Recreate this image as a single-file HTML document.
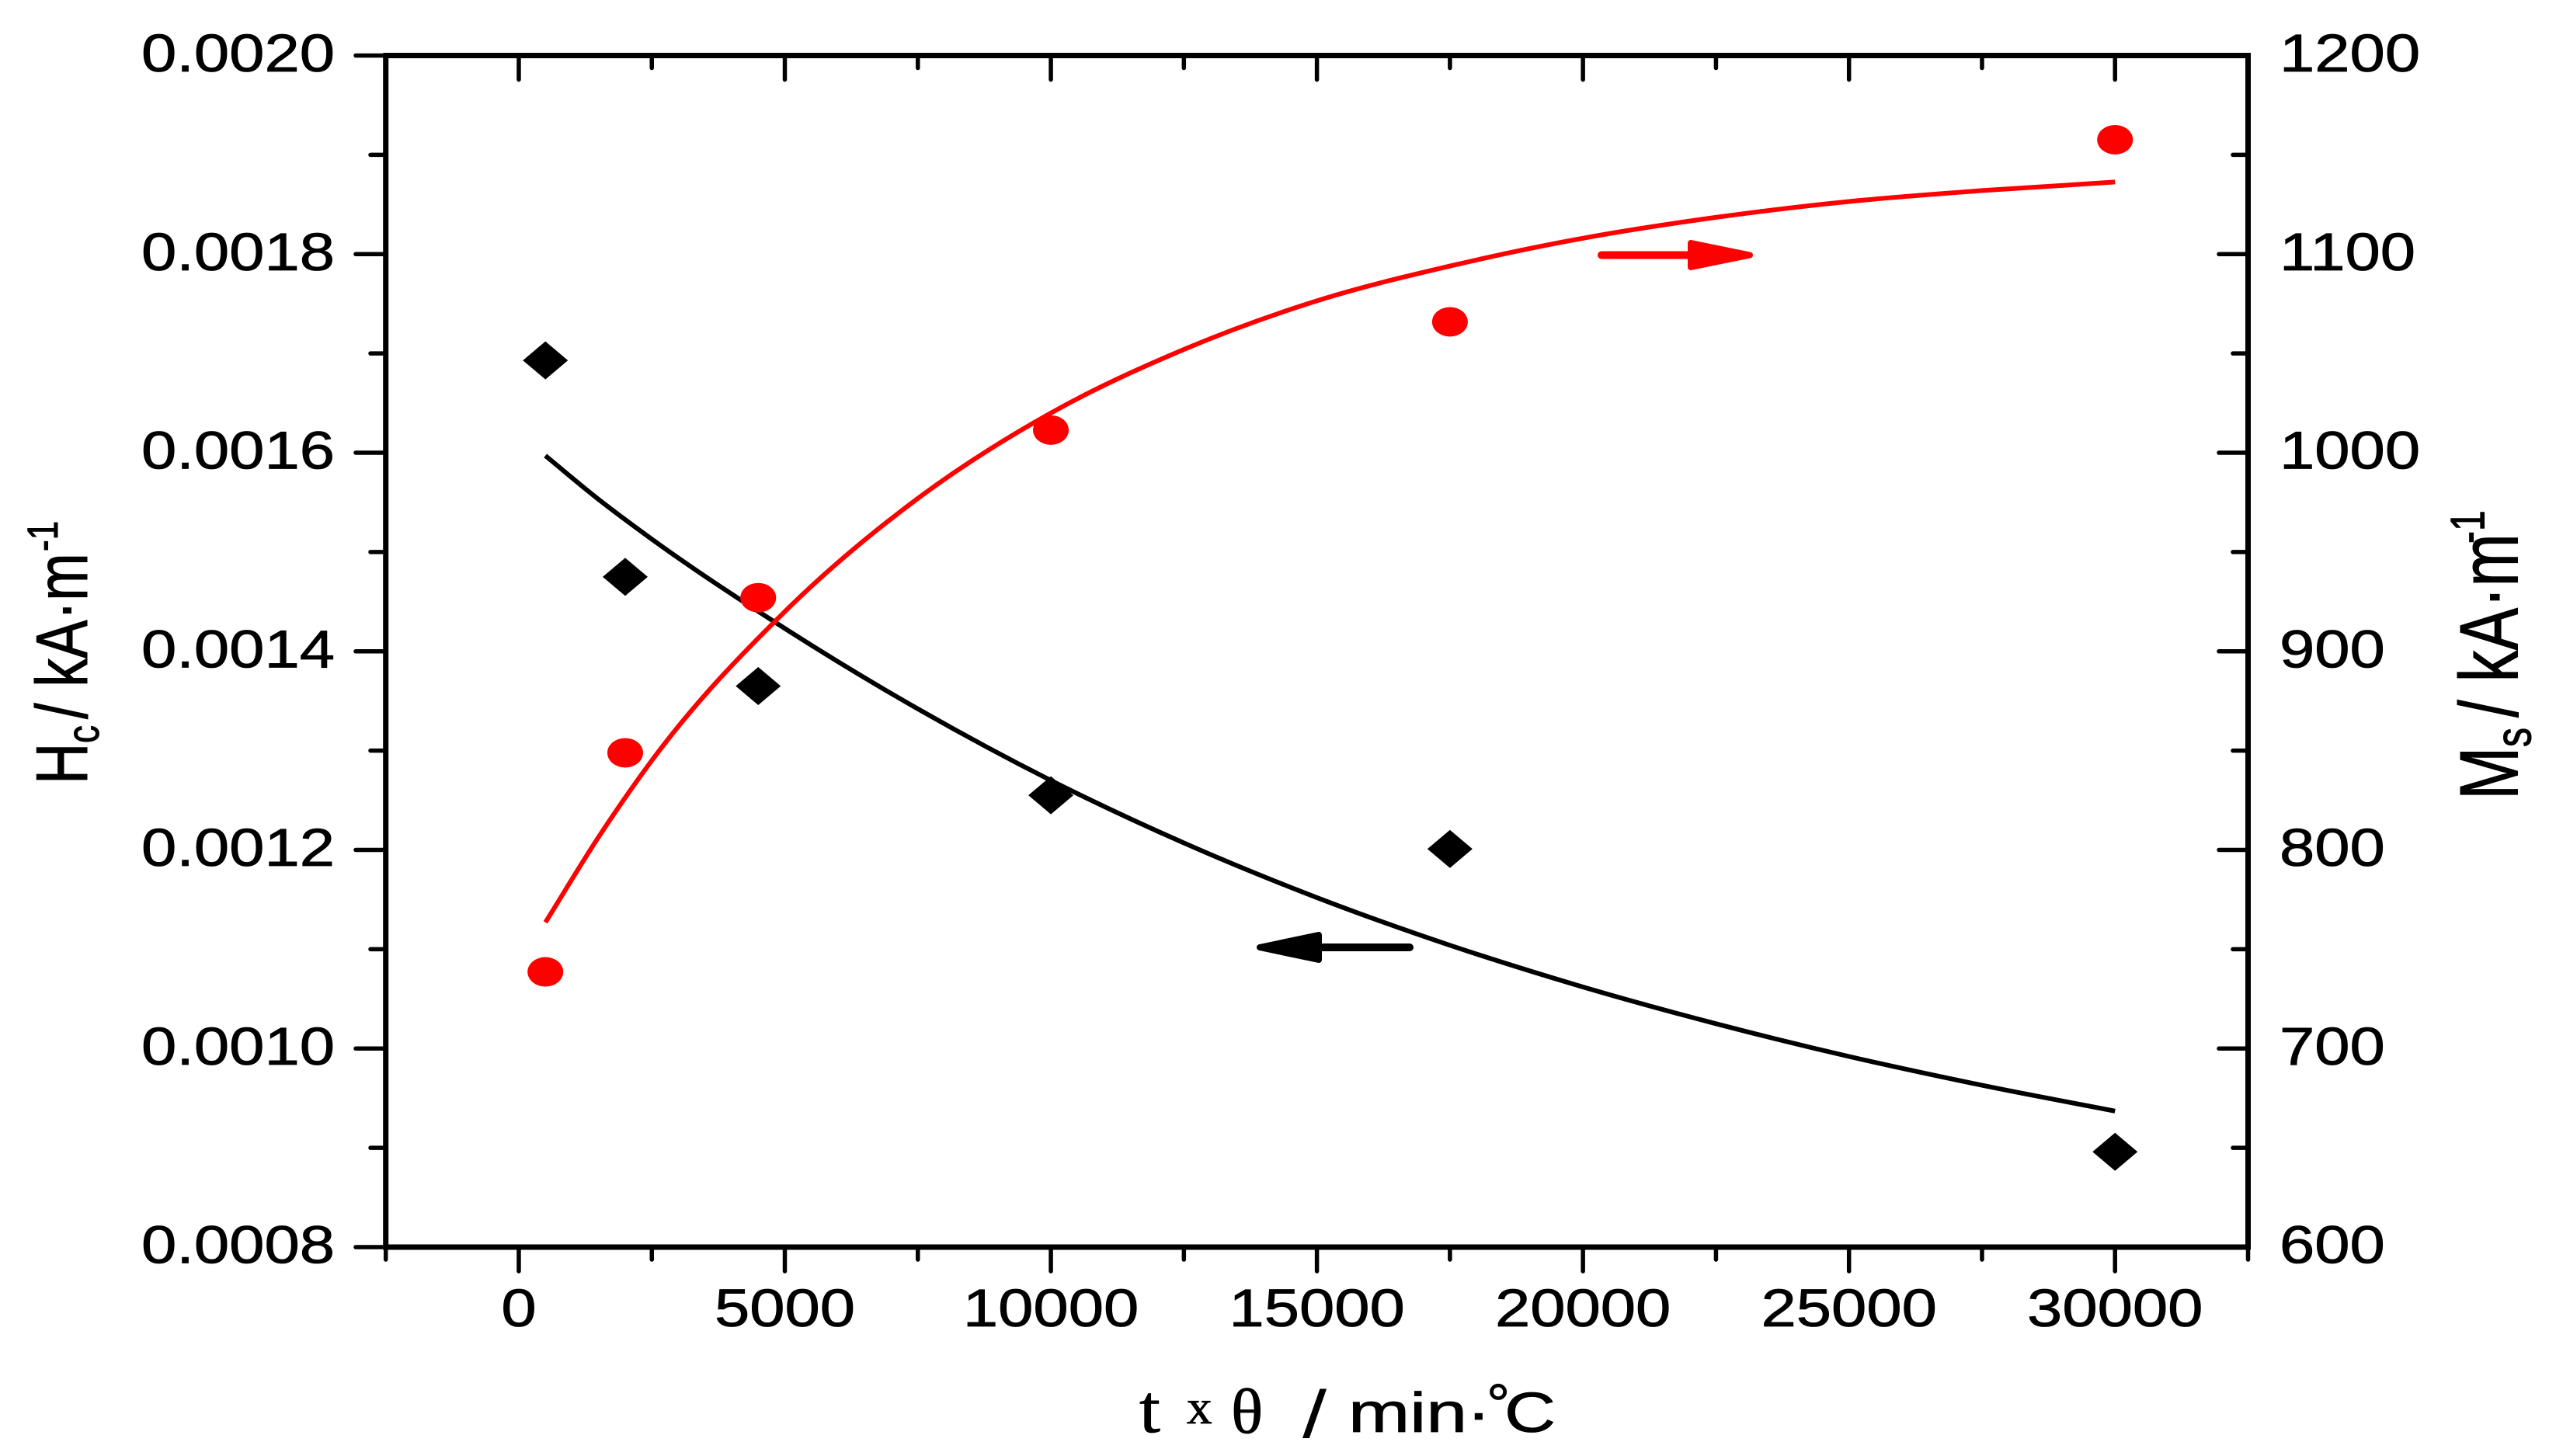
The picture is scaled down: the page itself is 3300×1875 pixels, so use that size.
<!DOCTYPE html>
<html lang="en">
<head>
<meta charset="utf-8">
<title>Hc and Ms versus t x theta</title>
<style>
  html, body { margin: 0; padding: 0; background: #fff; }
  svg { display: block; }
  text { font-family: "Liberation Sans", sans-serif; fill: #000; stroke: #000; stroke-width: 0.8; }
  .serif { font-family: "Liberation Serif", serif; }
</style>
</head>
<body>
<svg id="chart" xmlns="http://www.w3.org/2000/svg" width="3300" height="1875" viewBox="0 0 3300 1875">
  <rect x="0" y="0" width="3300" height="1875" fill="#fff"/>
  <g id="ticks"></g>
  <g id="tick-labels"></g>
  <g id="frame"></g>
  <g id="series"></g>

  <g>
    <path d="M1815 1220 L1695 1220" stroke="#000" stroke-width="10" stroke-linecap="round" fill="none"/>
    <path d="M1622 1220 L1698 1204 L1698 1236 Z" fill="#000" stroke="#000" stroke-width="8" stroke-linejoin="round"/>
  </g>
  <g>
    <path d="M2062 328.5 L2180 328.5" stroke="#f00" stroke-width="10" stroke-linecap="round" fill="none"/>
    <path d="M2253 328.5 L2177 313 L2177 344 Z" fill="#f00" stroke="#f00" stroke-width="8" stroke-linejoin="round"/>
  </g>

  <g transform="translate(112,1010) scale(1.27,1) rotate(-90)">
    <text font-size="74" x="0" y="0">H</text>
    <text font-size="46" x="53" y="12">c</text>
    <text font-size="74" x="84" y="0">/ kA·m</text>
    <text font-size="44" x="300" y="-30">-1</text>
  </g>
  <g transform="translate(3241.5,1030) scale(1.3,1) rotate(-90)">
    <text font-size="82" x="0" y="0">M</text>
    <text font-size="50" x="68" y="13">s</text>
    <text font-size="82" x="106" y="0">/ kA·m</text>
    <text font-size="48" x="330" y="-33">-1</text>
  </g>
  <g>
    <text class="serif" transform="translate(1467,1844) scale(1.1,1)" font-size="88">t</text>
    <text class="serif" transform="translate(1528,1833) scale(1.05,1)" font-size="62">x</text>
    <text class="serif" transform="translate(1585,1845) scale(1.05,1)" font-size="82">θ</text>
    <text transform="translate(1677,1851) scale(1.3,1)" font-size="86" style="stroke-width:0">/</text>
    <text transform="translate(1736,1844) scale(1.32,1)" font-size="72">min</text>
    <text transform="translate(1888,1844) scale(1.32,1)" font-size="72">·</text>
    <text transform="translate(1914,1833) scale(1.05,1)" font-size="72">°</text>
    <text transform="translate(1937,1844) scale(1.27,1)" font-size="72">C</text>
  </g>
</svg>
<script>
// Data
const xTickValues = [0, 5000, 10000, 15000, 20000, 25000, 30000];
const xTickLabels = ["0", "5000", "10000", "15000", "20000", "25000", "30000"];
const xMinorValues = [-2500, 2500, 7500, 12500, 17500, 22500, 27500, 32500];
const leftTickValues = [0.0008, 0.0010, 0.0012, 0.0014, 0.0016, 0.0018, 0.0020];
const leftTickLabels = ["0.0008", "0.0010", "0.0012", "0.0014", "0.0016", "0.0018", "0.0020"];
const leftMinorValues = [0.0009, 0.0011, 0.0013, 0.0015, 0.0017, 0.0019];
const rightTickValues = [600, 700, 800, 900, 1000, 1100, 1200];
const rightTickLabels = ["600", "700", "800", "900", "1000", "1100", "1200"];
const rightMinorValues = [650, 750, 850, 950, 1050, 1150];

const sampleX = [500, 2000, 4500, 10000, 17500, 30000];
const hcValues = [0.001693, 0.001475, 0.001365, 0.001255, 0.001201, 0.000896];
const msValues = [738.6, 848.9, 927, 1011.4, 1065.9, 1157.6];

const fitX = [500, 1500, 2500, 5000, 7500, 10000, 12500, 15000, 17500, 20000, 22500, 25000, 27500, 30000];
const hcFitY = [0.001597, 0.001553, 0.001513, 0.001423, 0.001342, 0.00127, 0.001207, 0.001152, 0.001104, 0.001062, 0.001025, 0.000992, 0.000963, 0.000937];
const msFitY = [763.5, 806.5, 845, 920, 977, 1020, 1052, 1076.5, 1094, 1108, 1118.5, 1126.5, 1132, 1136.3];

// Axis functions
const plot = { left: 496.7, right: 2894.5, top: 71.5, bottom: 1606 };
const xDomain = [-2500, 32500];
const leftDomain = [0.0008, 0.0020];
const rightDomain = [600, 1200];
function xAxis(v) { return plot.left + (v - xDomain[0]) / (xDomain[1] - xDomain[0]) * (plot.right - plot.left); }
function yLeft(v) { return plot.bottom - (v - leftDomain[0]) / (leftDomain[1] - leftDomain[0]) * (plot.bottom - plot.top); }
function yRight(v) { return plot.bottom - (v - rightDomain[0]) / (rightDomain[1] - rightDomain[0]) * (plot.bottom - plot.top); }

const NS = "http://www.w3.org/2000/svg";
const ticksG = document.getElementById("ticks");
const labelsG = document.getElementById("tick-labels");
const frameG = document.getElementById("frame");
const seriesG = document.getElementById("series");

function make(tag, parent) {
  const el = document.createElementNS(NS, tag);
  parent.appendChild(el);
  return el;
}
function tickLine(x1, y1, x2, y2, w) {
  const el = make("line", ticksG);
  el.setAttribute("x1", x1);
  el.setAttribute("y1", y1);
  el.setAttribute("x2", x2);
  el.setAttribute("y2", y2);
  el.setAttribute("stroke", "#000");
  el.setAttribute("stroke-width", w);
  el.setAttribute("stroke-linecap", "round");
  
  
}
function label(str, x, y, anchor) {
  const el = make("text", labelsG);
  el.setAttribute("transform", "translate(" + x + "," + y + ") scale(1.18,1)");
  el.setAttribute("font-size", "69");
  el.setAttribute("text-anchor", anchor);
  el.textContent = str;
  
  
}

// X ticks (outward at the bottom, inward at the top)
xTickValues.forEach(function (v, i) {
  const x = xAxis(v);
  tickLine(x, plot.bottom, x, plot.bottom + 31, 5.5);
  tickLine(x, plot.top, x, plot.top + 31, 5.5);
  label(xTickLabels[i], x, 1708, "middle");
});
xMinorValues.forEach(function (v) {
  const x = xAxis(v);
  tickLine(x, plot.bottom, x, plot.bottom + 16, 5.5);
  tickLine(x, plot.top, x, plot.top + 16, 5.5);
});
// Left axis ticks (outward)
leftTickValues.forEach(function (v, i) {
  const y = yLeft(v);
  tickLine(plot.left, y, 458, y, 5.5);
  label(leftTickLabels[i], 431, y + 20.5, "end");
});
leftMinorValues.forEach(function (v) {
  const y = yLeft(v);
  tickLine(plot.left, y, 477, y, 5.5);
});
// Right axis ticks (inward)
rightTickValues.forEach(function (v, i) {
  const y = yRight(v);
  tickLine(plot.right, y, 2857, y, 5.5);
  label(rightTickLabels[i], 2935, y + 20.5, "start");
});
rightMinorValues.forEach(function (v) {
  const y = yRight(v);
  tickLine(plot.right, y, 2875, y, 5.5);
});

// Frame
const frame = make("rect", frameG);
frame.setAttribute("x", plot.left);
frame.setAttribute("y", plot.top);
frame.setAttribute("width", plot.right - plot.left);
frame.setAttribute("height", plot.bottom - plot.top);
frame.setAttribute("fill", "none");
frame.setAttribute("stroke", "#000");
frame.setAttribute("stroke-width", "7");



// Smooth curve through read points (Hermite spline with non-uniform tangents)
function smoothPath(xs, ys, yFn) {
  const pts = xs.map(function (x, i) { return [xAxis(x), yFn(ys[i])]; });
  const n = pts.length;
  const slopes = [];
  for (let i = 0; i < n; i++) {
    if (i === 0) {
      slopes.push((pts[1][1] - pts[0][1]) / (pts[1][0] - pts[0][0]));
    } else if (i === n - 1) {
      slopes.push((pts[n - 1][1] - pts[n - 2][1]) / (pts[n - 1][0] - pts[n - 2][0]));
    } else {
      const h0 = pts[i][0] - pts[i - 1][0];
      const h1 = pts[i + 1][0] - pts[i][0];
      const d0 = (pts[i][1] - pts[i - 1][1]) / h0;
      const d1 = (pts[i + 1][1] - pts[i][1]) / h1;
      slopes.push((d0 * h1 + d1 * h0) / (h0 + h1));
    }
  }
  let d = "M" + pts[0][0].toFixed(1) + " " + pts[0][1].toFixed(1);
  for (let i = 0; i < n - 1; i++) {
    const dx = (pts[i + 1][0] - pts[i][0]) / 3;
    const c1x = pts[i][0] + dx;
    const c1y = pts[i][1] + slopes[i] * dx;
    const c2x = pts[i + 1][0] - dx;
    const c2y = pts[i + 1][1] - slopes[i + 1] * dx;
    d += " C" + c1x.toFixed(1) + " " + c1y.toFixed(1) + " " + c2x.toFixed(1) + " " + c2y.toFixed(1) + " " + pts[i + 1][0].toFixed(1) + " " + pts[i + 1][1].toFixed(1);
  }
  return d;
}

const hcCurve = make("path", seriesG);
hcCurve.setAttribute("d", smoothPath(fitX, hcFitY, yLeft));
hcCurve.setAttribute("fill", "none");
hcCurve.setAttribute("stroke", "#000");
hcCurve.setAttribute("stroke-width", "6");



const msCurve = make("path", seriesG);
msCurve.setAttribute("d", smoothPath(fitX, msFitY, yRight));
msCurve.setAttribute("fill", "none");
msCurve.setAttribute("stroke", "#f00");
msCurve.setAttribute("stroke-width", "6");



// Markers
sampleX.forEach(function (xv, i) {
  const cx = xAxis(xv);
  const cy = yLeft(hcValues[i]);
  const m = make("polygon", seriesG);
  m.setAttribute("points", (cx - 29) + "," + cy + " " + cx + "," + (cy - 24.5) + " " + (cx + 29) + "," + cy + " " + cx + "," + (cy + 24.5));
  m.setAttribute("fill", "#000");
  
  
});
sampleX.forEach(function (xv, i) {
  const m = make("ellipse", seriesG);
  m.setAttribute("cx", xAxis(xv));
  m.setAttribute("cy", yRight(msValues[i]));
  m.setAttribute("rx", "23");
  m.setAttribute("ry", "19");
  m.setAttribute("fill", "#f00");
  
  
});
</script>
</body>
</html>
